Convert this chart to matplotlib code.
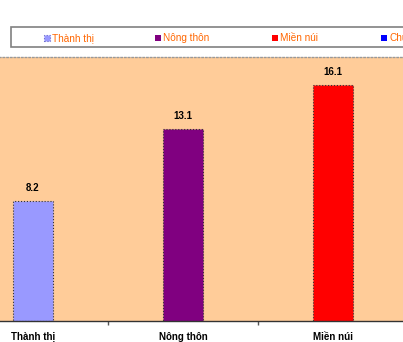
import matplotlib.pyplot as plt
from matplotlib.patches import Rectangle

categories = ["Thành thị", "Nông thôn", "Miền núi", "Chung"]
values = [8.2, 13.1, 16.1]
bar_colors = ["#9999FF", "#800080", "#FF0000", "#0000FF"]

W, H = 403, 342
fig = plt.figure(figsize=(W / 100, H / 100), dpi=100)
plt.rcParams['font.family'] = ['Liberation Sans', 'DejaVu Sans']

# plot area is cropped on the left/right in the original, so the axes run off the figure
ax = fig.add_axes([-42 / W, 21 / H, 600 / W, 264 / H])
ax.set_facecolor("#FFCC99")

x = list(range(len(values)))
bars = ax.bar(x, values, width=0.267, color=bar_colors[:len(values)],
              edgecolor="#333333", linestyle=":", linewidth=0.8)
for b, v in zip(bars, values):
    ax.annotate(f"{v:.1f}", (b.get_x() + b.get_width() / 2, v),
                xytext=(0, 9.4), textcoords="offset points",
                ha="center", va="center", fontsize=7, fontweight="bold")

ax.set_xlim(-0.5, len(categories) - 0.5)
ax.set_ylim(0, 18)
ax.set_xticks(range(len(categories)))
ax.set_xticklabels(categories, fontsize=7, fontweight="bold")
ax.tick_params(axis="x", which="major", length=0, pad=8)
ax.set_xticks([i + 0.5 for i in range(len(categories) - 1)], minor=True)
ax.tick_params(axis="x", which="minor", length=3, color="#555555", width=1)
ax.set_yticks([])

ax.spines["bottom"].set_color("#333333")
ax.spines["bottom"].set_linewidth(1)
ax.spines["top"].set_color("#999999")
ax.spines["top"].set_linestyle(":")
ax.spines["top"].set_linewidth(1)
ax.spines["left"].set_visible(False)
ax.spines["right"].set_visible(False)

# legend box, drawn by hand to match the original placement
fig.patches.append(Rectangle((11 / W, 1 - 47 / H), 600 / W, 20 / H,
                             transform=fig.transFigure, facecolor="white",
                             edgecolor="#808080", linewidth=1.2))
leg_x = [44, 155, 272, 381]
for i, (lx, name, c) in enumerate(zip(leg_x, categories, bar_colors)):
    fig.patches.append(Rectangle((lx / W, 1 - 41 / H), 6 / W, 6 / H,
                                 transform=fig.transFigure, facecolor=c,
                                 edgecolor="#6666CC" if i == 0 else "none",
                                 linestyle=":", linewidth=0.8))
    fig.text((lx + 8) / W, 1 - 38 / H, name, fontsize=7.2, color="#FF6600",
             ha="left", va="center")

fig.savefig("out.png", dpi=100)
